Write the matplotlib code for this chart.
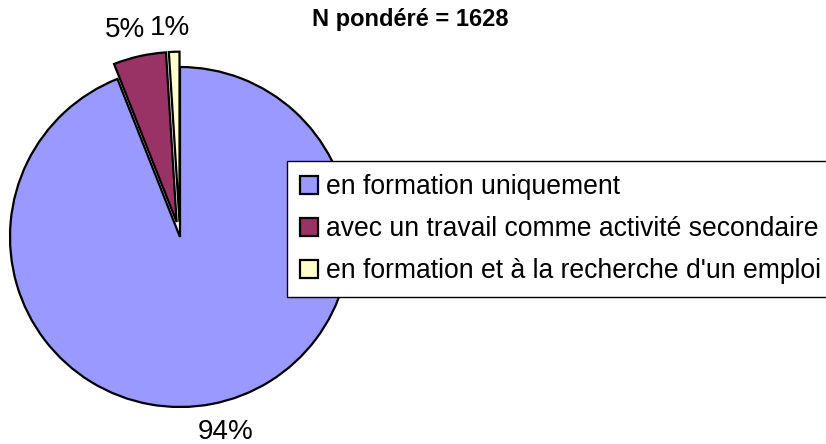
import matplotlib.pyplot as plt

plt.rcParams['font.family'] = ['Liberation Sans', 'DejaVu Sans']

labels = ['en formation uniquement',
          'avec un travail comme activité secondaire',
          "en formation et à la recherche d'un emploi"]
values = [94, 5, 1]
colors = ['#9999FF', '#993366', '#FFFFCC']
title = 'N pondéré = 1628'

# pie geometry in pixel-like data units
radius = 170
explode = [0, 0.09 * radius, 0.09 * radius]
label_nudge = [(8, 2), (-8, -4), (-3, -7)]

fig = plt.figure(figsize=(8.26, 4.44), dpi=100)
ax = fig.add_axes([0, 0, 1, 1])

wedges, texts, autotexts = ax.pie(
    values, colors=colors, explode=explode, startangle=90, counterclock=False,
    center=(180, 207), radius=radius, frame=True,
    autopct=lambda p: '{:.0f}%'.format(p), pctdistance=1.18,
    wedgeprops=dict(edgecolor='black', linewidth=1.6),
    textprops=dict(fontsize=20, color='black'))
for t, (dx, dy) in zip(autotexts, label_nudge):
    x, y = t.get_position()
    t.set_position((x + dx, y + dy))

ax.set_xlim(0, 826)
ax.set_ylim(0, 444)
ax.set_aspect('equal')
ax.axis('off')

fig.text(0.497, 0.955, title, ha='center', va='center',
         fontsize=17, fontweight='bold')

leg = fig.legend(wedges, labels, loc='upper left',
                 bbox_to_anchor=(287 / 826, 1 - 161 / 444),
                 fontsize=19.1, frameon=True, fancybox=False,
                 edgecolor='black', framealpha=1, borderpad=0.5,
                 handlelength=0.68, handleheight=0.68, handletextpad=0.28,
                 labelspacing=0.6, borderaxespad=0)
leg.get_frame().set_linewidth(1.0)
for h in leg.legend_handles:
    h.set_linewidth(1.6)

fig.savefig('out.png', dpi=100)
